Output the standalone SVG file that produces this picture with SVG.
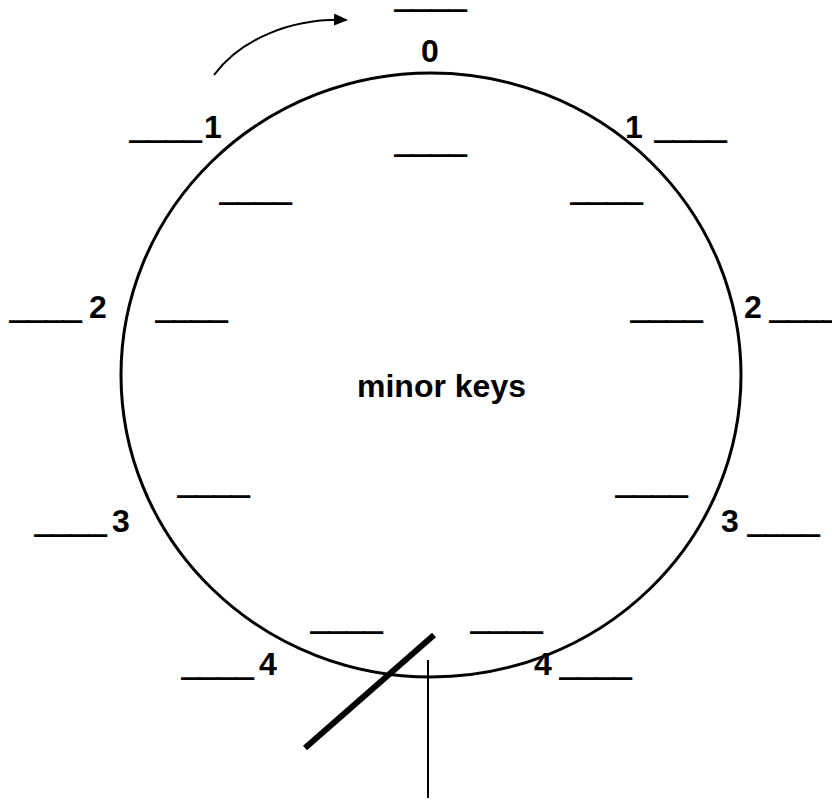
<svg xmlns="http://www.w3.org/2000/svg" width="832" height="800" viewBox="0 0 832 800">
<defs>
<style>
text{font-family:"Liberation Sans",Arial,sans-serif;font-weight:bold;font-size:32px;fill:#000}
text.b{stroke:#000;stroke-width:1.4}
.c{fill:none;stroke:#000}
</style>
<marker id="ah" markerWidth="14" markerHeight="12" refX="12" refY="6" orient="auto" markerUnits="userSpaceOnUse" viewBox="0 0 14 12">
<path d="M0,0 L14,6 L0,12 Z" fill="#000"/>
</marker>
</defs>
<rect width="832" height="800" fill="#fff"/>
<g id="circle"><ellipse class="c" cx="431" cy="375" rx="310" ry="302" stroke-width="3"/></g>
<g id="title"><text x="357" y="397">minor keys</text></g>
<g id="connectors">
<path class="c" d="M214,75 C240,40 290,18 346,20" stroke-width="2" marker-end="url(#ah)"/>
<line class="c" x1="305" y1="748" x2="434" y2="635" stroke-width="6"/>
<line class="c" x1="428" y1="660" x2="428" y2="798" stroke-width="2"/>
</g>
<g id="top"><text class="b" x="395" y="7">____</text><text x="421" y="62">0</text><text class="b" x="395" y="152">____</text></g>
<g id="left1"><text class="b" x="130" y="138">____</text><text x="204" y="138">1</text></g>
<g id="right1"><text x="625" y="138">1</text><text class="b" x="655" y="138">____</text></g>
<g id="inner1"><text class="b" x="220" y="200">____</text><text class="b" x="571" y="200">____</text></g>
<g id="left2"><text class="b" x="10" y="318">____</text><text x="89" y="318">2</text></g>
<g id="inner2"><text class="b" x="156" y="318">____</text><text class="b" x="631" y="318">____</text></g>
<g id="right2"><text x="744" y="318">2</text><text class="b" x="770" y="318">____</text></g>
<g id="inner3"><text class="b" x="178" y="493">____</text><text class="b" x="616" y="493">____</text></g>
<g id="left3"><text class="b" x="35" y="532">____</text><text x="112" y="532">3</text></g>
<g id="right3"><text x="721" y="532">3</text><text class="b" x="748" y="532">____</text></g>
<g id="inner4"><text class="b" x="311" y="629">____</text><text class="b" x="471" y="629">____</text></g>
<g id="left4"><text class="b" x="182" y="675">____</text><text x="259" y="675">4</text></g>
<g id="right4"><text x="534" y="675">4</text><text class="b" x="560" y="675">____</text></g>
</svg>
